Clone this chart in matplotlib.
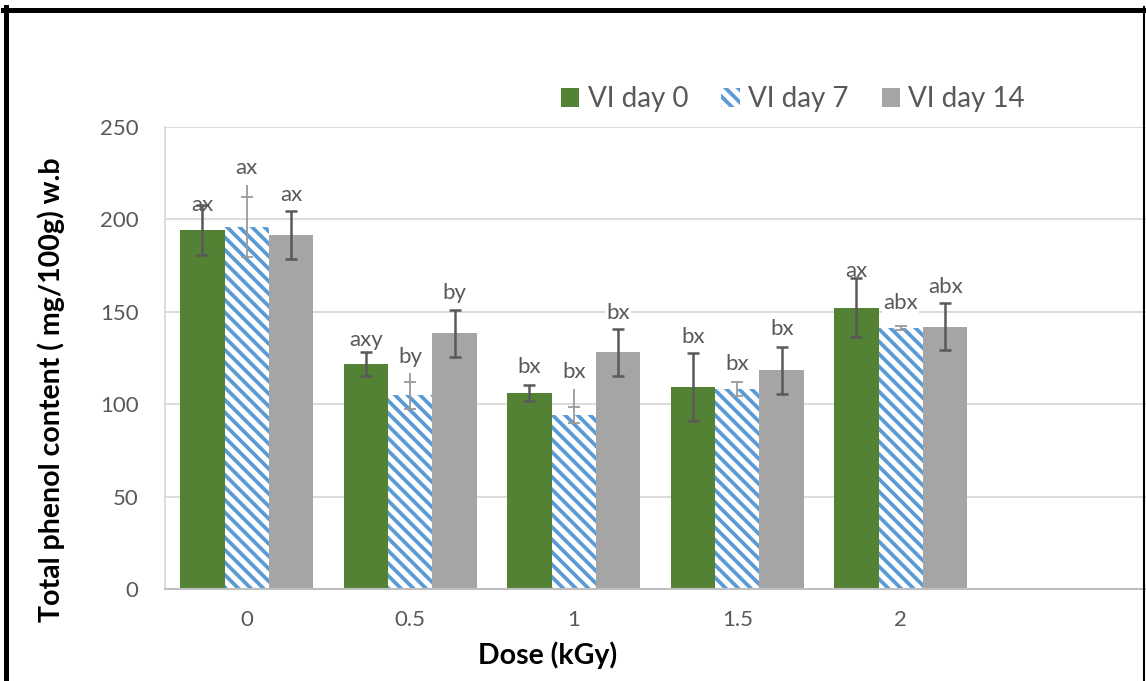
import numpy as np
import matplotlib
matplotlib.use("Agg")
import matplotlib.pyplot as plt
from matplotlib.patches import Patch
from matplotlib.lines import Line2D
from matplotlib.backend_bases import GraphicsContextBase

plt.rcParams['font.family'] = ['Lato', 'DejaVu Sans']
plt.rcParams['hatch.linewidth'] = 2.7
plt.rcParams['hatch.color'] = '#5b9bd5'

# denser stripes than the default hatch
_hatch_path = GraphicsContextBase.get_hatch_path
def wide_hatch(self, density=16.0):
    return _hatch_path(self, density)
GraphicsContextBase.get_hatch_path = wide_hatch

# data
doses = ['0', '0.5', '1', '1.5', '2', '']
day0 = [194.3, 121.6, 106.2, 109.5, 152.2]
day7 = [195.9, 104.8, 94.2, 108.1, 141.1]
day14 = [191.6, 138.4, 128.1, 118.3, 141.8]
err0 = [13.5, 6.5, 4.3, 18.4, 16.0]
err7 = [16.3, 7.3, 4.5, 3.8, 1.0]
err14 = [12.8, 12.7, 12.7, 12.7, 12.7]
top7 = [218.6, 116.7, 108.2, 111.9, 142.1]   # faint line above the day 7 caps
lab0 = ['ax', 'axy', 'bx', 'bx', 'ax']
lab7 = ['ax', 'by', 'bx', 'bx', 'abx']
lab14 = ['ax', 'by', 'bx', 'bx', 'abx']
laby0 = [207.8, 134.7, 120.3, 136.2, 172.2]
laby7 = [227.8, 125.7, 117.6, 121.6, 154.6]
laby14 = [213.2, 160.2, 149.5, 140.5, 163.6]

green = '#548235'
blue = '#5b9bd5'
gray = '#a5a5a5'
txt = '#595959'

fig = plt.figure(figsize=(11.46, 6.81), dpi=100)
ax = fig.add_axes([165/1146, 1-589/681, 1-165/1146, 462/681])

x = np.arange(len(day0))
w = 0.272

ax.bar(x - w, day0, w, color=green, zorder=2)
ax.bar(x, day7, w, color='white', edgecolor=blue, linewidth=0, hatch='\\', zorder=2)
ax.bar(x + w, day14, w, color=gray, zorder=2)

# labels with white box, below the error bars
for xs, ys, ls in [(x - w, laby0, lab0), (x, laby7, lab7), (x + w, laby14, lab14)]:
    for xi, yi, li in zip(xs, ys, ls):
        ax.text(xi, yi, li, ha='center', va='center', fontsize=16, color=txt, zorder=3,
                bbox=dict(facecolor='white', edgecolor='none', pad=1.0))

ax.errorbar(x - w, day0, yerr=err0, fmt='none', ecolor='#595959', elinewidth=1.8,
            capsize=4.5, capthick=1.8, zorder=4)
ax.errorbar(x + w, day14, yerr=err14, fmt='none', ecolor='#595959', elinewidth=1.8,
            capsize=4.5, capthick=1.8, zorder=4)
ax.errorbar(x, day7, yerr=err7, fmt='none', ecolor='#9a9a9a', elinewidth=1.3,
            capsize=4.5, capthick=1.3, zorder=4)
ax.vlines(x, np.array(day7) + np.array(err7), top7, color='#9a9a9a', linewidth=1.3, zorder=4)

ax.set_xlim(-0.5, 5.5)
ax.set_ylim(0, 250)
ax.set_xticks(np.arange(len(doses)))
ax.set_xticklabels(doses)
ax.set_yticks([0, 50, 100, 150, 200, 250])
ax.tick_params(axis='x', length=0, pad=15, labelsize=16, labelcolor=txt)
ax.tick_params(axis='y', length=0, pad=19, labelsize=16, labelcolor=txt)
ax.grid(axis='y', color='#d9d9d9', linewidth=1.3, zorder=0)
ax.set_axisbelow(True)
for s in ['top', 'right']:
    ax.spines[s].set_visible(False)
ax.spines['left'].set_color('#d9d9d9')
ax.spines['left'].set_linewidth(1.3)
ax.spines['bottom'].set_color('#bfbfbf')
ax.spines['bottom'].set_linewidth(1.5)

fig.text(548/1146, 1-655/681, 'Dose (kGy)', ha='center', va='center',
         fontsize=20.5, fontweight='bold', color='black')
fig.text(51/1146, 1-390/681, 'Total phenol content ( mg/100g) w.b', ha='center', va='center',
         rotation=90, fontsize=20.5, fontweight='bold', color='black')

handles = [Patch(facecolor=green, edgecolor='none'),
           Patch(facecolor='white', edgecolor=blue, linewidth=0, hatch='\\'),
           Patch(facecolor=gray, edgecolor='none')]
fig.legend(handles, ['VI day 0', 'VI day 7', 'VI day 14'], loc='center',
           bbox_to_anchor=(793/1146, 1-99/681), ncol=3, frameon=False, fontsize=20,
           labelcolor=txt, handlelength=0.65, handleheight=0.65, handletextpad=0.3,
           columnspacing=1.2)

# black frame round the chart
fig.add_artist(Line2D([3/1146, 1143/1146], [1-9.5/681, 1-9.5/681], color='black', linewidth=3.6))
fig.add_artist(Line2D([5.5/1146, 5.5/1146], [0, 1-7/681], color='black', linewidth=3.6))
fig.add_artist(Line2D([1144/1146, 1144/1146], [0, 1-7/681], color='black', linewidth=1.5))

fig.savefig('out.png', dpi=100)
